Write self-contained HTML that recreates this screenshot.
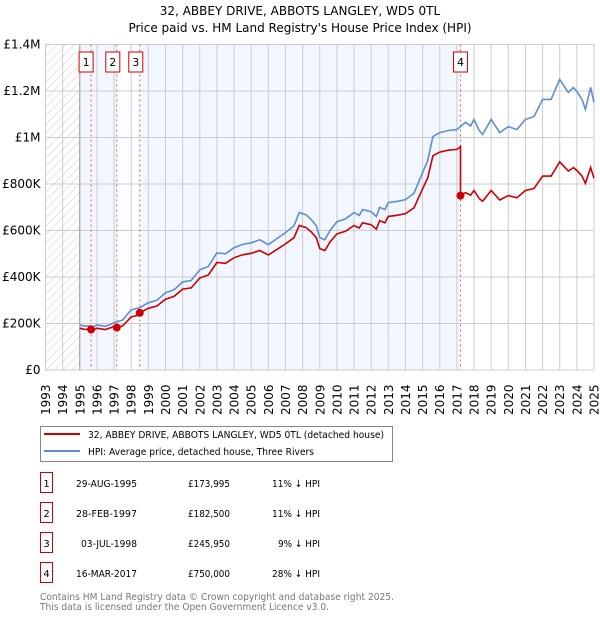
<!DOCTYPE html>
<html><head><meta charset="utf-8"><style>
body{margin:0;background:#fff;width:600px;height:620px;overflow:hidden;font-family:"DejaVu Sans","Liberation Sans",sans-serif;}
svg text{font-family:"DejaVu Sans","Liberation Sans",sans-serif;}
</style></head><body>
<svg id="chart" width="600" height="620">
<defs><pattern id="hatch" width="6" height="6" patternUnits="userSpaceOnUse" patternTransform="rotate(45)"><line x1="0" y1="0" x2="0" y2="6" stroke="#ccc" stroke-width="1"/></pattern></defs>
<text x="300" y="15" text-anchor="middle" font-size="12">32, ABBEY DRIVE, ABBOTS LANGLEY, WD5 0TL</text>
<text x="300" y="32" text-anchor="middle" font-size="12">Price paid vs. HM Land Registry's House Price Index (HPI)</text>
<g id="plot"></g>
<g>
<rect x="40.5" y="426.5" width="352" height="35" fill="#fff" stroke="#888"/>
<line x1="44" y1="434" x2="80" y2="434" stroke="#cc0000" stroke-width="2"/>
<text x="88" y="438" font-size="10" textLength="296" lengthAdjust="spacingAndGlyphs">32, ABBEY DRIVE, ABBOTS LANGLEY, WD5 0TL (detached house)</text>
<line x1="44" y1="451" x2="80" y2="451" stroke="#5b8fd4" stroke-width="2"/>
<text x="88" y="455" font-size="10" textLength="226" lengthAdjust="spacingAndGlyphs">HPI: Average price, detached house, Three Rivers</text>
</g>
<g id="table"></g>
<text x="40" y="600" font-size="10" fill="#777" textLength="354" lengthAdjust="spacingAndGlyphs">Contains HM Land Registry data © Crown copyright and database right 2025.</text>
<text x="40" y="610" font-size="10" fill="#777" textLength="289" lengthAdjust="spacingAndGlyphs">This data is licensed under the Open Government Licence v3.0.</text>
</svg>
<script>
const hpiYears=[1995.0,1995.3,1995.5,1995.8,1996,1996.3,1996.5,1996.8,1997,1997.5,1998,1998.5,1999,1999.5,2000,2000.5,2001,2001.5,2002,2002.5,2003,2003.5,2004,2004.5,2005,2005.5,2006,2006.5,2007,2007.5,2007.8,2008.2,2008.5,2008.8,2009.0,2009.3,2009.6,2010,2010.5,2011,2011.3,2011.5,2012,2012.3,2012.5,2012.8,2013,2013.5,2014,2014.5,2015,2015.3,2015.6,2016,2016.5,2017,2017.5,2017.8,2018,2018.3,2018.5,2019,2019.5,2020,2020.5,2021,2021.5,2022,2022.5,2023,2023.5,2023.8,2024,2024.3,2024.5,2024.8,2025];
const hpiValues=[194000,188000,190000,186000,194000,190000,188000,196000,203000,215000,259000,268000,289000,300000,332000,345000,379000,385000,431000,445000,504000,500000,526000,540000,547000,560000,539000,565000,591000,620000,677000,668000,647000,620000,569000,560000,600000,638000,650000,677000,665000,690000,681000,660000,700000,690000,720000,725000,733000,760000,849000,900000,1004000,1021000,1030000,1034000,1065000,1050000,1078000,1030000,1013000,1078000,1021000,1047000,1034000,1078000,1090000,1164000,1164000,1250000,1194000,1215000,1198000,1164000,1121000,1216000,1151000];
const saleDates=[1995.66,1997.16,1998.5,2017.21];
const salePrices=[173995,182500,245950,750000];
const saleLabels=["29-AUG-1995","28-FEB-1997","03-JUL-1998","16-MAR-2017"];
const salePriceText=["£173,995","£182,500","£245,950","£750,000"];
const salePct=["11% ↓ HPI","11% ↓ HPI","9% ↓ HPI","28% ↓ HPI"];
const yTicks=[0,200000,400000,600000,800000,1000000,1200000,1400000];
const yTickLabels=["£0","£200K","£400K","£600K","£800K","£1M","£1.2M","£1.4M"];
const xYears=[1993,1994,1995,1996,1997,1998,1999,2000,2001,2002,2003,2004,2005,2006,2007,2008,2009,2010,2011,2012,2013,2014,2015,2016,2017,2018,2019,2020,2021,2022,2023,2024,2025];

const L=45.5,R=594,T=44.5,B=370;
const X=t=>L+(t-1993)/(2025-1993)*(R-L);
const Y=v=>B-v/1400000*(B-T);
const NS="http://www.w3.org/2000/svg";
const plot=document.getElementById('plot');
function mk(tag,attrs,parent){const e=document.createElementNS(NS,tag);for(const k in attrs)e.setAttribute(k,attrs[k]);(parent||plot).appendChild(e);return e;}
function hpiAt(t){for(let i=0;i<hpiYears.length-1;i++){if(t>=hpiYears[i]&&t<=hpiYears[i+1]){const f=(t-hpiYears[i])/(hpiYears[i+1]-hpiYears[i]);return hpiValues[i]+f*(hpiValues[i+1]-hpiValues[i]);}}return hpiValues[hpiValues.length-1];}

let e;
e=mk('rect',{x:L,y:T,width:R-L,height:B-T,fill:'#fff'});


const bands=[[1995,saleDates[1]],[saleDates[2],saleDates[3]]];
bands.forEach(b=>{e=mk('rect',{x:X(b[0]),y:T,width:X(b[1])-X(b[0]),height:B-T,fill:'#f2f6fe'});

});
e=mk('rect',{x:L,y:T,width:X(1995)-L,height:B-T,fill:'url(#hatch)'});


xYears.forEach(yr=>{e=mk('line',{x1:X(yr),x2:X(yr),y1:T,y2:B,stroke:'#ccc','stroke-width':1});


e=mk('text',{x:0,y:0,transform:`translate(${X(yr)+4.5},${B+45}) rotate(-90)`,'font-size':12});
e.textContent=yr;

});
yTicks.forEach((v,i)=>{e=mk('line',{x1:L,x2:R,y1:Y(v),y2:Y(v),stroke:'#ccc','stroke-width':1});


e=mk('text',{x:L-5,y:Y(v)+4,'text-anchor':'end','font-size':12});
e.textContent=yTickLabels[i];

});
e=mk('line',{x1:X(1995),x2:X(1995),y1:T,y2:B,stroke:'#999','stroke-width':1});


e=mk('rect',{x:L,y:T,width:R-L,height:B-T,fill:'none',stroke:'#ccc'});


const badgeOff=[-12,-11,-11,-7];
saleDates.forEach((d,i)=>{e=mk('line',{x1:X(d),x2:X(d),y1:T,y2:B,stroke:'#e06060','stroke-width':1,'stroke-dasharray':'2,3'});


const rx=X(d)+badgeOff[i];
e=mk('rect',{x:rx,y:52,width:14,height:20,fill:'#fff',stroke:'#cc0000'});


e=mk('text',{x:rx+7,y:66,'text-anchor':'middle','font-size':11});
e.textContent=i+1;

});
let dh='';hpiYears.forEach((t,i)=>{dh+=(i?'L':'M')+X(t).toFixed(1)+','+Y(hpiValues[i]).toFixed(1);});
e=mk('path',{d:dh,fill:'none',stroke:'#5b8fd4','stroke-width':1.6});


const ratios=saleDates.map((d,i)=>salePrices[i]/hpiAt(d));
function ratioAt(t){let r=ratios[0];saleDates.forEach((d,i)=>{if(t>=d)r=ratios[i];});return r;}
const ts=[...hpiYears,...saleDates].sort((a,b)=>a-b);
let dr='';ts.forEach((t,i)=>{const si=saleDates.indexOf(t);
if(si>0){dr+='L'+X(t).toFixed(1)+','+Y(hpiAt(t)*ratios[si-1]).toFixed(1);}
dr+=(i?'L':'M')+X(t).toFixed(1)+','+Y(hpiAt(t)*ratioAt(t)).toFixed(1);});
e=mk('path',{d:dr,fill:'none',stroke:'#cc0000','stroke-width':1.6});


saleDates.forEach((d,i)=>{e=mk('circle',{cx:X(d),cy:Y(salePrices[i]),r:4,fill:'#cc0000'});

});
const tb=document.getElementById('table');
saleDates.forEach((d,i)=>{const y=483+i*30;
e=mk('rect',{x:40.5,y:y-10.5,width:12,height:20,fill:'#fff',stroke:'#cc0000'},tb);


e=mk('text',{x:46.5,y:y+4,'text-anchor':'middle','font-size':10},tb);e.textContent=i+1;


e=mk('text',{x:137,y:y+4,'text-anchor':'end','font-size':10,textLength:(i==2?56:61),lengthAdjust:'spacingAndGlyphs'},tb);e.textContent=saleLabels[i];


e=mk('text',{x:230,y:y+4,'text-anchor':'end','font-size':10,textLength:42,lengthAdjust:'spacingAndGlyphs'},tb);e.textContent=salePriceText[i];


e=mk('text',{x:320,y:y+4,'text-anchor':'end','font-size':10,textLength:(i==2?42:48),lengthAdjust:'spacingAndGlyphs'},tb);e.textContent=salePct[i];

});
</script>
</body></html>
